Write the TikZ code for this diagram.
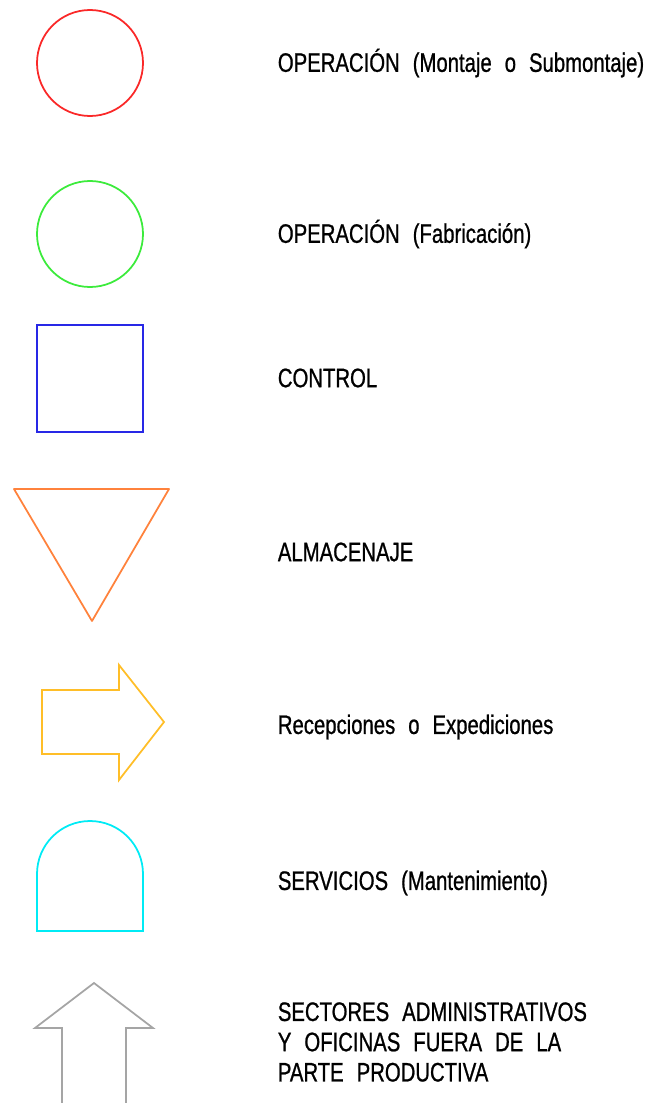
\documentclass[tikz,border=0pt]{standalone}
\usepackage{fontspec}
\setmainfont{Liberation Sans}[FakeStretch=0.76,WordSpace={2.3},FakeBold=0.8]
\usepackage{xcolor}
\definecolor{rojo}{RGB}{250,40,40}
\definecolor{verde}{RGB}{60,235,60}
\definecolor{azul}{RGB}{40,40,230}
\definecolor{naranja}{RGB}{255,130,60}
\definecolor{amarillo}{RGB}{255,190,40}
\definecolor{celeste}{RGB}{0,235,245}
\definecolor{gris}{RGB}{165,165,165}

\begin{document}
\begin{tikzpicture}[x=0.01cm, y=-0.01cm, line width=0.5pt,
	leyenda/.style={anchor=west, inner sep=0pt, font=\fontsize{7.6}{8.6}\selectfont, align=left}]
			\useasboundingbox (0,0) rectangle (663,1103);

			\draw [rojo] (90,63) circle (53);
			\node [leyenda] (montaje) at (277,63) {OPERACIÓN (Montaje o Submontaje)};

			\draw [verde] (90,234) circle (53);
			\node [leyenda] (fabricacion) at (277,234) {OPERACIÓN (Fabricación)};

			\draw [azul] (37,325) rectangle (143,432);
			\node [leyenda] (control) at (277,378) {CONTROL};

			\draw [naranja, line join=round] (14,489) -- (169,489) -- (92,621) -- cycle;
			\node [leyenda] (almacenaje) at (277,552) {ALMACENAJE};

			\draw [amarillo] (42,690) -- (119,690) -- (119,665) -- (164,722) -- (119,780) -- (119,754) -- (42,754) -- cycle;
			\node [leyenda] (recepciones) at (277,727) {Recepciones o Expediciones};

			\draw [celeste] (37,931) -- (37,874) arc (180:360:53) -- (143,931) -- cycle;
			\node [leyenda] (servicios) at (277,883) {SERVICIOS (Mantenimiento)};

			\draw [gris] (62,1103) -- (62,1028) -- (35,1028) -- (94,983) -- (153,1028) -- (126,1028) -- (126,1103);
			\node [leyenda] (sectores) at (277,1042) {SECTORES ADMINISTRATIVOS\\Y OFICINAS FUERA DE LA\\PARTE PRODUCTIVA};
		\end{tikzpicture}
\end{document}
